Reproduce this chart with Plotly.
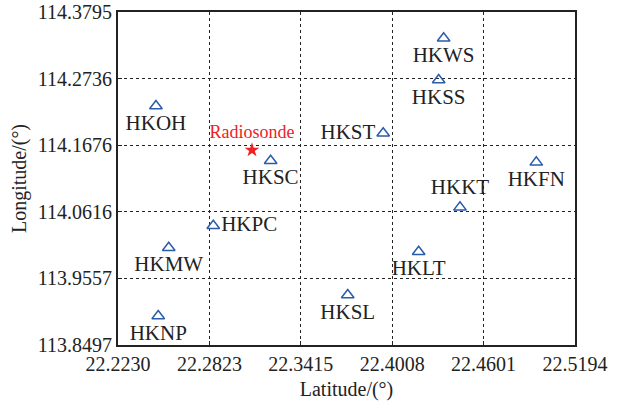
import plotly.graph_objects as go

# Station coordinates (latitude on x, longitude on y)
stations = ["HKOH", "HKSC", "HKWS", "HKSS", "HKST", "HKFN", "HKKT",
            "HKPC", "HKMW", "HKNP", "HKLT", "HKSL"]
lat = [22.2476, 22.3220, 22.4342, 22.4310, 22.3950, 22.4943, 22.4448,
       22.2848, 22.2559, 22.2491, 22.4180, 22.3720]
lon = [114.2299, 114.1429, 114.3377, 114.2713, 114.1865, 114.1403, 114.0687,
       114.0395, 114.0045, 113.8958, 113.9981, 113.9292]
label_pos = ["bottom center", "bottom center", "bottom center", "bottom center",
             "middle left", "bottom center", "top center", "middle right",
             "bottom center", "bottom center", "bottom center", "bottom center"]

sonde_name = ["Radiosonde"]
sonde_lat = [22.3099]
sonde_lon = [114.1599]

x_ticks = [22.2230, 22.2823, 22.3415, 22.4008, 22.4601, 22.5194]
y_ticks = [113.8497, 113.9557, 114.0616, 114.1676, 114.2736, 114.3795]

font_family = "Liberation Serif"
ink = "#222222"

fig = go.Figure()
fig.add_trace(go.Scatter(
    x=lat, y=lon, mode="markers+text", text=stations,
    textposition=label_pos,
    textfont=dict(family=font_family, size=21, color=ink),
    marker=dict(symbol="triangle-up-open", size=11, color="#2a5caa",
                line=dict(width=1.5, color="#2a5caa")),
    cliponaxis=False, showlegend=False,
))
fig.add_trace(go.Scatter(
    x=sonde_lat, y=sonde_lon, mode="markers+text", text=sonde_name,
    textposition="top center",
    textfont=dict(family=font_family, size=18, color="#ee2222"),
    marker=dict(symbol="star", size=11, color="#ee2222"),
    cliponaxis=False, showlegend=False,
))

axis_common = dict(
    showgrid=True, gridcolor=ink, griddash="dot", gridwidth=1,
    showline=True, linecolor=ink, linewidth=2, mirror=True,
    ticks="inside", ticklen=4, tickcolor=ink,
    zeroline=False, automargin=False,
    tickfont=dict(family=font_family, size=20, color=ink),
)

fig.update_xaxes(
    range=[x_ticks[0], x_ticks[-1]], tickvals=x_ticks,
    ticktext=[f"{v:.4f}" for v in x_ticks],
    title=dict(text="Latitude/(°)", font=dict(family=font_family, size=20, color=ink),
               standoff=8),
    **axis_common,
)
fig.update_yaxes(
    range=[y_ticks[0], y_ticks[-1]], tickvals=y_ticks,
    ticktext=[f"{v:.4f}" for v in y_ticks],
    title=dict(text="Longitude/(°)", font=dict(family=font_family, size=20, color=ink),
               standoff=6),
    **axis_common,
)

fig.update_layout(
    width=621, height=406,
    margin=dict(l=118, r=46, t=12, b=61),
    paper_bgcolor="white", plot_bgcolor="white",
)

fig.write_html("out.html")
